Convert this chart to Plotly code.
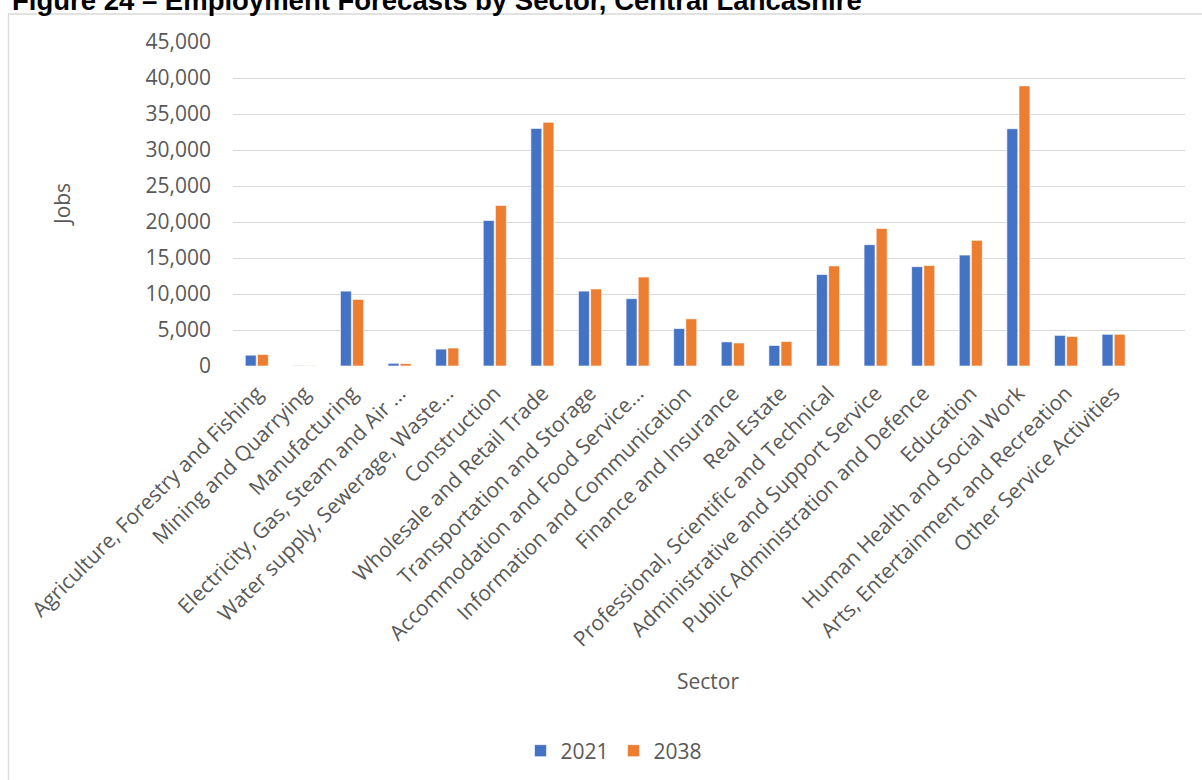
import plotly.graph_objects as go

# Employment by sector, Central Lancashire
sectors = [
    "Agriculture, Forestry and Fishing",
    "Mining and Quarrying",
    "Manufacturing",
    "Electricity, Gas, Steam and Air ...",
    "Water supply, Sewerage, Waste...",
    "Construction",
    "Wholesale and Retail Trade",
    "Transportation and Storage",
    "Accommodation and Food Service...",
    "Information and Communication",
    "Finance and Insurance",
    "Real Estate",
    "Professional, Scientific and Technical",
    "Administrative and Support Service",
    "Public Administration and Defence",
    "Education",
    "Human Health and Social Work",
    "Arts, Entertainment and Recreation",
    "Other Service Activities",
]
jobs_2021 = [1500, 50, 10400, 370, 2350, 20200, 33000, 10400, 9350, 5200,
             3350, 2850, 12700, 16850, 13800, 15400, 32950, 4250, 4400]
jobs_2038 = [1600, 40, 9250, 330, 2500, 22300, 33850, 10700, 12350, 6550,
             3200, 3400, 13900, 19100, 13950, 17450, 38900, 4100, 4400]
y_ticks = [0, 5000, 10000, 15000, 20000, 25000, 30000, 35000, 40000, 45000]

FONT = "Open Sans"
GREY = "#595959"
FS = 21

fig = go.Figure()
fig.add_trace(go.Bar(x=sectors, y=jobs_2021, name="2021",
                     marker=dict(color="#4472C4", line=dict(color="rgba(255,255,255,0.6)", width=1))))
fig.add_trace(go.Bar(x=sectors, y=jobs_2038, name="2038",
                     marker=dict(color="#ED7D31", line=dict(color="rgba(255,255,255,0.6)", width=1))))

# pixel layout helpers (plot area: x 233..1185, y 42..366)
L, R, T, B = 233, 1185, 42, 366
def px_x(x):
    return (x - L) / (R - L)
def px_y(y):
    return 1 - (y - T) / (B - T)

fig.update_layout(
    width=1202, height=780,
    margin=dict(l=L, r=1202 - R, t=T, b=780 - B, pad=0, autoexpand=False),
    paper_bgcolor="white", plot_bgcolor="white",
    barmode="group", bargap=0.49, bargroupgap=0.1,
    font=dict(family=FONT, size=FS, color=GREY),
    showlegend=True,
    legend=dict(orientation="h", x=px_x(614), y=px_y(751), xanchor="center", yanchor="middle",
                font=dict(family=FONT, size=FS, color=GREY), itemwidth=30, traceorder="normal"),
    xaxis=dict(type="category", range=[-0.5, 19.5], tickangle=-45,
               showgrid=False, showline=False, zeroline=False, ticks="",
               ticklabelstandoff=10,
               tickfont=dict(family=FONT, size=FS, color=GREY)),
    yaxis=dict(range=[0, 45000], tickvals=y_ticks, tickformat=",", showline=False,
               zeroline=False, showgrid=True, gridcolor="#d9d9d9", gridwidth=1.3,
               ticks="", ticklabelstandoff=21,
               tickfont=dict(family=FONT, size=FS, color=GREY)),
    shapes=[dict(type="rect", xref="paper", yref="paper",
                 x0=px_x(8.5), y0=px_y(14), x1=px_x(1230), y1=px_y(800),
                 line=dict(color="#d9d9d9", width=1.3), fillcolor="rgba(0,0,0,0)", layer="below")],
    annotations=[
        dict(text="<b>Figure 24 – Employment Forecasts by Sector, Central Lancashire</b>",
             xref="paper", yref="paper", x=px_x(10), y=px_y(0), xanchor="left", yanchor="middle",
             showarrow=False, font=dict(family="Liberation Sans, Arial", size=27.5, color="black")),
        dict(text="Sector", xref="paper", yref="paper", x=px_x(708), y=px_y(681),
             xanchor="center", yanchor="middle", showarrow=False,
             font=dict(family=FONT, size=FS, color=GREY)),
        dict(text="Jobs", xref="paper", yref="paper", x=px_x(62), y=px_y(205),
             xanchor="center", yanchor="middle", textangle=-90, showarrow=False,
             font=dict(family=FONT, size=FS, color=GREY)),
    ],
)

fig.write_html("out.html")
